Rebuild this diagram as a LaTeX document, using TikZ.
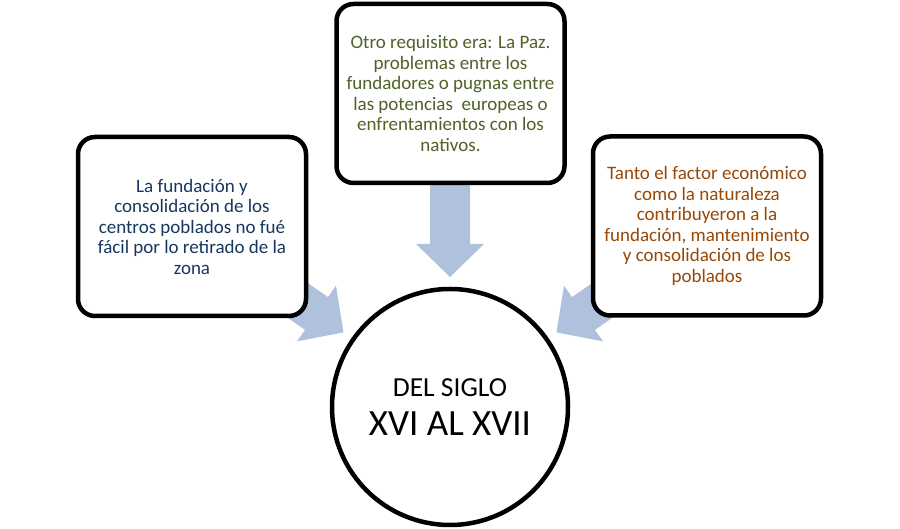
\documentclass[tikz,border=0pt]{standalone}
\usepackage{fontspec}
\setmainfont{Carlito}
\usetikzlibrary{calc}

\begin{document}
\begin{tikzpicture}[x=1pt, y=1pt,
  riquadro/.style={draw=black, line width=4.5pt, rounded corners=17pt, fill=white,
    minimum width=228pt, minimum height=179pt, inner sep=0pt, align=center,
    font=\fontsize{19}{20.5}\selectfont},
  cerchio/.style={circle, draw=black, line width=4.5pt, fill=white,
    minimum size=236pt, inner sep=0pt, align=center,
    font=\fontsize{37}{39}\selectfont},
  pics/freccia/.style={code={
    \fill[colFreccia] (0,0) -- (-33,34) -- (-33,20) -- (-107,20)
      -- (-107,-20) -- (-33,-20) -- (-33,-34) -- cycle;}}
]

% Colori
\definecolor{colFreccia}{HTML}{B0C1DD}
\definecolor{colBlu}{HTML}{17375E}
\definecolor{colVerde}{HTML}{4F6228}
\definecolor{colMarrone}{HTML}{984807}

% Distanza delle punte dal centro del cerchio
\def\d{130}

\useasboundingbox (0,0) rectangle (900,529);

% Cerchio centrale
\node[cerchio] (siglo) at (450,122) {{\fontsize{27.5}{33}\selectfont DEL SIGLO}\\XVI AL XVII};

% Frecce (sotto i riquadri)
\pic[rotate=-90] at ($(siglo.center)+(90:\d)$) {freccia};
\pic[rotate=-35] at ($(siglo.center)+(145:\d)$) {freccia};
\pic[rotate=-145] at ($(siglo.center)+(35:\d)$) {freccia};

% Riquadri
\node[riquadro, text=colVerde] (paz) at (450.5,435.5)
  {Otro requisito era: La Paz.\\problemas entre los\\fundadores o pugnas entre\\las potencias\ \ europeas o\\enfrentamientos con los\\nativos.};

\node[riquadro, text=colBlu] (fundacion) at (192,302.5)
  {La fundación y\\consolidación de los\\centros poblados no fué\\fácil por lo retirado de la\\zona};

\node[riquadro, text=colMarrone] (factor) at (707,303)
  {Tanto el factor económico\\como la naturaleza\\contribuyeron a la\\fundación, mantenimiento\\y consolidación de los\\poblados};

\end{tikzpicture}
\end{document}
